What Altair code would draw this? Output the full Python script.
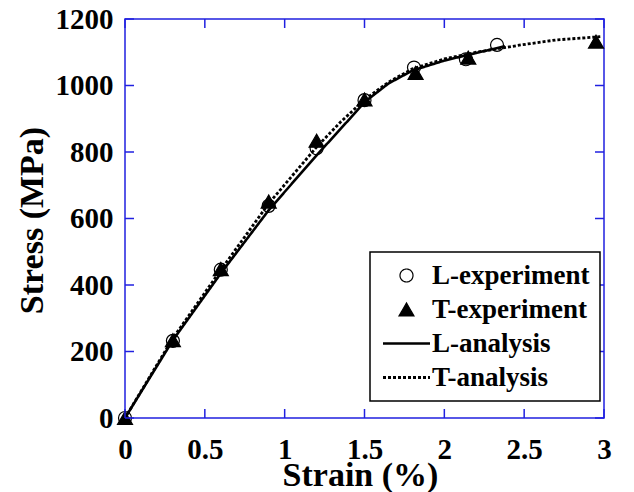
import altair as alt
import pandas as pd

# ---- data ----
series = ["L-experiment", "T-experiment", "L-analysis", "T-analysis"]

l_exp_strain = [0, 0.3, 0.6, 0.9, 1.2, 1.5, 1.81, 2.135, 2.33]
l_exp_stress = [0, 232, 446, 638, 811, 956, 1054, 1079, 1122]
t_exp_strain = [0, 0.3, 0.6, 0.9, 1.2, 1.5, 1.82, 2.15, 2.95]
t_exp_stress = [0, 234, 448, 651, 834, 958, 1038, 1084, 1132]

l_ana_strain = [0, 0.3, 0.6, 0.9, 1.2, 1.4, 1.5, 1.65, 1.8, 2.0, 2.2, 2.38]
l_ana_stress = [0, 234, 435, 625, 790, 896, 950, 1006, 1045, 1075, 1098, 1118]
t_ana_strain = [0, 0.3, 0.6, 0.9, 1.05, 1.2, 1.35, 1.5, 1.65, 1.8, 2.0, 2.2, 2.48, 2.7, 2.98]
t_ana_stress = [0, 240, 445, 645, 730, 815, 890, 957, 1010, 1050, 1080, 1100, 1122, 1137, 1147]

x_ticks = [0, 0.5, 1, 1.5, 2, 2.5, 3]
y_ticks = [0, 200, 400, 600, 800, 1000, 1200]

# ---- tables ----
exp_df = pd.concat([
    pd.DataFrame({"series": series[0], "strain": l_exp_strain, "stress": l_exp_stress}),
    pd.DataFrame({"series": series[1], "strain": t_exp_strain, "stress": t_exp_stress}),
])
ana_df = pd.concat([
    pd.DataFrame({"series": series[2], "strain": l_ana_strain, "stress": l_ana_stress}),
    pd.DataFrame({"series": series[3], "strain": t_ana_strain, "stress": t_ana_stress}),
])
xt_df = pd.DataFrame({"strain": x_ticks})
yt_df = pd.DataFrame({"stress": y_ticks})

W, H = 479, 399
BLUE = "#2020e0"
FONT = "'Liberation Serif', 'Times New Roman', Times, serif"
LINE_PATH = "M-4.7,0L4.7,0"
TICK = 9

xscale = alt.Scale(domain=[0, 3], nice=False, zero=False)
yscale = alt.Scale(domain=[0, 1200], nice=False, zero=False)

xaxis = alt.Axis(values=x_ticks, format="~g", tickSize=0, domain=False, grid=False,
                 labelFont=FONT, labelFontWeight="bold", labelFontSize=29, labelColor="black",
                 labelPadding=17, labelFlush=False, labelOverlap=False,
                 title="Strain (%)", titleFont=FONT, titleFontWeight="bold", titleFontSize=34,
                 titleColor="black", titleX=235, titleY=67, titleBaseline="alphabetic")
yaxis = alt.Axis(values=y_ticks, format="d", tickSize=0, domain=False, grid=False,
                 labelFont=FONT, labelFontWeight="bold", labelFontSize=29, labelColor="black",
                 labelPadding=12, labelFlush=False, labelOverlap=False,
                 title="Stress (MPa)", titleFont=FONT, titleFontWeight="bold", titleFontSize=34,
                 titleColor="black", titleX=-83, titleY=201, titleBaseline="alphabetic",
                 titleAngle=270)

leg = alt.Legend(title=None, orient="none", legendX=245, legendY=233)

shape_scale = alt.Scale(domain=series, range=["circle", "triangle-up", LINE_PATH, LINE_PATH])
fill_scale = alt.Scale(domain=series, range=["transparent", "black", "transparent", "transparent"])
sw_scale = alt.Scale(type="ordinal", domain=series, range=[1.2, 1.2, 2.6, 2.8])
dash_scale = alt.Scale(domain=series, range=[[1, 0], [1, 0], [1, 0], [3, 2]])
size_scale = alt.Scale(type="ordinal", domain=series, range=[169, 225, 100, 100])

lines = alt.Chart(ana_df).mark_line(color="black").encode(
    x=alt.X("strain:Q", scale=xscale, axis=xaxis),
    y=alt.Y("stress:Q", scale=yscale, axis=yaxis),
    strokeDash=alt.StrokeDash("series:N", scale=dash_scale, legend=leg),
    strokeWidth=alt.StrokeWidth("series:N", scale=sw_scale, legend=leg),
)

points = alt.Chart(exp_df).mark_point(stroke="black", opacity=1).encode(
    x=alt.X("strain:Q", scale=xscale, axis=xaxis),
    y=alt.Y("stress:Q", scale=yscale, axis=yaxis),
    shape=alt.Shape("series:N", scale=shape_scale, legend=leg),
    fill=alt.Fill("series:N", scale=fill_scale, legend=leg),
    strokeWidth=alt.StrokeWidth("series:N", scale=sw_scale, legend=leg),
    size=alt.Size("series:N", scale=size_scale, legend=None),
)

tick_b = alt.Chart(xt_df).mark_rule(color=BLUE, strokeWidth=1.5).encode(
    x=alt.X("strain:Q", scale=xscale, axis=xaxis), y=alt.value(H), y2=alt.value(H - TICK))
tick_t = alt.Chart(xt_df).mark_rule(color=BLUE, strokeWidth=1.5).encode(
    x=alt.X("strain:Q", scale=xscale, axis=xaxis), y=alt.value(0), y2=alt.value(TICK))
tick_l = alt.Chart(yt_df).mark_rule(color=BLUE, strokeWidth=1.5).encode(
    y=alt.Y("stress:Q", scale=yscale, axis=yaxis), x=alt.value(0), x2=alt.value(TICK))
tick_r = alt.Chart(yt_df).mark_rule(color=BLUE, strokeWidth=1.5).encode(
    y=alt.Y("stress:Q", scale=yscale, axis=yaxis), x=alt.value(W - TICK), x2=alt.value(W))

chart = alt.layer(lines, points, tick_b, tick_t, tick_l, tick_r).properties(
    width=W, height=H,
    autosize=alt.AutoSizeParams(type="none"),
    padding={"left": 125, "top": 19, "right": 30, "bottom": 74},
    background="white",
).configure_view(
    stroke=BLUE, strokeWidth=1.5
).configure_legend(
    padding=10, strokeColor="black", strokeWidth=1.5, fillColor="white",
    labelFont=FONT, labelFontWeight="bold", labelFontSize=27, labelColor="black",
    labelLimit=300, symbolSize=100, symbolStrokeColor="black", symbolFillColor="white",
    symbolOpacity=1, symbolOffset=13, labelOffset=12, rowPadding=6,
)

chart.save("out.html", embed_options={"renderer": "svg", "actions": False})
